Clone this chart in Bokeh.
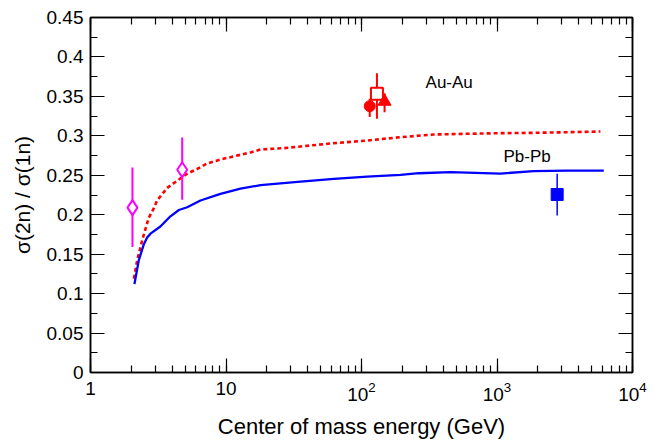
from bokeh.plotting import figure
from bokeh.models import (LogAxis, LinearAxis, FixedTicker, LogTicker, LogTickFormatter,
                          CustomJSTickFormatter, ColumnDataSource)
from bokeh.core.properties import value
from bokeh.embed import file_html
from bokeh.resources import INLINE

FONT = "Liberation Sans"

# Dotted red curve (Au-Au calculation)
au_curve_x = [2.09, 2.21, 2.41, 2.69, 2.93, 3.1, 3.68, 4.61, 5.17, 6.13, 7.26, 9.1, 11.4, 15.2,
              18, 26.7, 35.5, 62.5, 110, 194, 342, 603, 1062, 1870, 3300, 5800]
au_curve_y = [0.119, 0.142, 0.168, 0.196, 0.208, 0.218, 0.234, 0.246, 0.252, 0.258, 0.265, 0.270,
              0.274, 0.279, 0.2827, 0.2844, 0.2865, 0.2907, 0.294, 0.2983, 0.3017, 0.3026, 0.3034,
              0.3038, 0.3046, 0.3055]

# Solid blue curve (Pb-Pb calculation)
pb_curve_x = [2.11, 2.27, 2.48, 2.62, 2.77, 3.28, 3.89, 4.49, 5.17, 6.48, 9.1, 12.8, 18, 35.5,
              62.5, 110, 194, 265, 454, 1062, 1870, 3300, 6140]
pb_curve_y = [0.112, 0.142, 0.163, 0.171, 0.176, 0.185, 0.198, 0.206, 0.2095, 0.218, 0.2265,
              0.233, 0.2375, 0.242, 0.2455, 0.2484, 0.2505, 0.2526, 0.2539, 0.2522, 0.2552,
              0.256, 0.256]

# Magenta open diamonds (low energy data)
dia_x = [2.04, 4.75]
dia_y = [0.209, 0.257]
dia_lo = [0.159, 0.219]
dia_hi = [0.260, 0.298]

# Red Au-Au data points
au_circle_x = [115]
au_circle_y = [0.3376]
au_circle_lo = [0.324]
au_circle_hi = [0.347]

au_square_x = [130]
au_square_y = [0.3533]
au_square_lo = [0.3216]
au_square_hi = [0.3794]

au_tri_x = [148]
au_tri_y = [0.3435]
au_tri_lo = [0.330]
au_tri_hi = [0.354]

# Blue Pb-Pb data point
pb_sq_x = [2780]
pb_sq_y = [0.2256]
pb_sq_lo = [0.199]
pb_sq_hi = [0.252]

# Annotations
label_x = [297, 1117]
label_y = [0.367, 0.2738]
label_text = ["Au-Au", "Pb-Pb"]

# Ticks
x_plain_ticks = [1, 10]
x_plain_labels = ["1", "10"]
y_ticks = [0, 0.05, 0.1, 0.15, 0.2, 0.25, 0.3, 0.35, 0.4, 0.45]
y_labels = ["0", "0.05", "0.1", "0.15", "0.2", "0.25", "0.3", "0.35", "0.4", "0.45"]
y_minor = [0.025, 0.075, 0.125, 0.175, 0.225, 0.275, 0.325, 0.375, 0.425]

p = figure(width=656, height=443, x_axis_type="log", x_range=(1, 10000), y_range=(0, 0.45),
           output_backend="svg", toolbar_location=None,
           min_border_left=90, min_border_right=24, min_border_top=17, min_border_bottom=71)
p.xgrid.visible = False
p.ygrid.visible = False
p.outline_line_color = "black"
p.outline_line_width = 1.5
p.background_fill_color = "white"
p.border_fill_color = "white"

def style_axis(ax):
    ax.major_tick_in = 14
    ax.major_tick_out = 0
    ax.minor_tick_in = 7
    ax.minor_tick_out = 0
    ax.axis_line_color = "black"
    ax.axis_line_width = 1.5
    ax.major_tick_line_width = 1.2
    ax.minor_tick_line_width = 1.2
    ax.major_label_text_font = FONT
    ax.major_label_text_font_size = "19px"
    ax.major_label_text_color = "black"
    ax.axis_label_text_font = FONT
    ax.axis_label_text_font_style = "normal"
    ax.axis_label_text_color = "black"

# bottom axis
xa = p.xaxis[0]
style_axis(xa)
xa.ticker = LogTicker(num_minor_ticks=10)
xa.formatter = LogTickFormatter(min_exponent=1)
xa.major_label_overrides = {t: l for t, l in zip(x_plain_ticks, x_plain_labels)}
xa.major_label_standoff = 9
xa.axis_label = "Center of mass energy (GeV)"
xa.axis_label_text_font_size = "22px"
xa.axis_label_standoff = 10

# left axis
ya = p.yaxis[0]
style_axis(ya)
ya.ticker = FixedTicker(ticks=y_ticks, minor_ticks=y_minor)
ya.major_label_overrides = {t: l for t, l in zip(y_ticks, y_labels)}
ya.major_label_standoff = 7
ya.axis_label = "σ(2n) / σ(1n)"
ya.axis_label_text_font_size = "21px"
ya.axis_label_standoff = 10

blank = CustomJSTickFormatter(code="return ''")
top = LogAxis(ticker=LogTicker(num_minor_ticks=10), formatter=blank)
style_axis(top)
top.major_label_standoff = 0
p.add_layout(top, "above")
right = LinearAxis(ticker=FixedTicker(ticks=y_ticks, minor_ticks=y_minor), formatter=blank)
style_axis(right)
right.major_label_standoff = 0
p.add_layout(right, "right")

# curves
p.line(au_curve_x, au_curve_y, line_color="#ff0000", line_width=2.6, line_dash="4 3")
p.line(pb_curve_x, pb_curve_y, line_color="#0000ff", line_width=2.3)

# error bars
p.segment(x0=dia_x, y0=dia_lo, x1=dia_x, y1=dia_hi, line_color="#ff00ff", line_width=2)
p.segment(x0=au_circle_x, y0=au_circle_lo, x1=au_circle_x, y1=au_circle_hi, line_color="#ff0000", line_width=2)
p.segment(x0=au_square_x, y0=au_square_lo, x1=au_square_x, y1=au_square_hi, line_color="#ff0000", line_width=2)
p.segment(x0=au_tri_x, y0=au_tri_lo, x1=au_tri_x, y1=au_tri_hi, line_color="#ff0000", line_width=2)
p.segment(x0=pb_sq_x, y0=pb_sq_lo, x1=pb_sq_x, y1=pb_sq_hi, line_color="#0000ff", line_width=1.5)

# markers
p.scatter(dia_x, dia_y, marker="diamond", size=15, line_color="#ff00ff", fill_color="white", line_width=2)
p.scatter(au_square_x, au_square_y, marker="square", size=12, line_color="#ff0000", fill_color="white", line_width=2)
p.scatter(au_circle_x, au_circle_y, marker="circle", size=11, line_color="#ff0000", fill_color="#ff0000")
p.scatter(au_tri_x, au_tri_y, marker="triangle", size=13, line_color="#ff0000", fill_color="#ff0000")
p.scatter(pb_sq_x, pb_sq_y, marker="square", size=12, line_color="#0000ff", fill_color="#0000ff")

# labels
src = ColumnDataSource(dict(x=label_x, y=label_y, t=label_text))
p.text(x="x", y="y", text="t", source=src, text_font=value(FONT), text_font_size="17px",
       text_baseline="middle", text_align="left", text_color="black")

open("out.html", "w").write(file_html(p, INLINE))
